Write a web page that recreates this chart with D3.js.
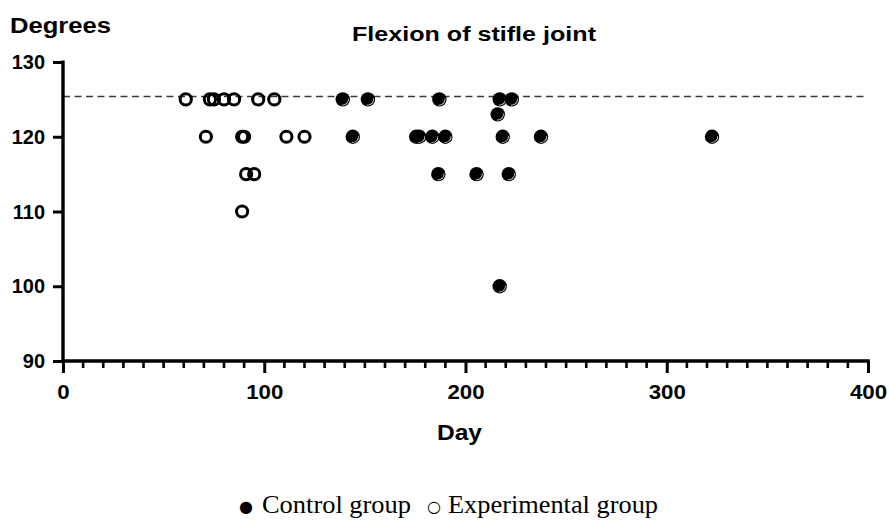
<!DOCTYPE html>
<html>
<head>
<meta charset="utf-8">
<script src="https://cdn.jsdelivr.net/npm/d3@7"></script>
<style>
  html, body { margin: 0; padding: 0; background: #fff; }
  svg { display: block; }
</style>
</head>
<body>
<svg id="chart" width="889" height="521"></svg>
<script>
// ---- data ----
const controlDays    = [139, 151.5, 187, 217, 223, 216, 144, 175.5, 177, 183.5, 190, 218.5, 237.5, 322.5, 186.5, 205.5, 221.5, 217];
const controlDegrees = [125, 125,   125, 125, 125, 123, 120, 120,   120, 120,   120, 120,   120,   120,   115,   115,   115,   100];
const expDays        = [61, 73, 75, 80, 85, 97, 105, 71, 90, 89, 111, 120, 91, 95, 89];
const expDegrees     = [125, 125, 125, 125, 125, 125, 125, 120, 120, 120, 120, 120, 115, 115, 110];
const referenceLine  = 125.4;
const xTicks = [0, 100, 200, 300, 400];
const yTicks = [90, 100, 110, 120, 130];
const legendLabels = ["Control group", "Experimental group"];

// ---- layout ----
const svg = d3.select("#chart");
const x = d3.scaleLinear().domain([0, 400]).range([63, 868]);
const y = d3.scaleLinear().domain([90, 130]).range([361, 62]);
const font = "'Liberation Sans', Arial, Helvetica, sans-serif";
const serif = "'Liberation Serif', 'Times New Roman', serif";

function fit(sel, w) {
  sel.attr("textLength", w).attr("lengthAdjust", "spacingAndGlyphs");
}

// reference dashed line
svg.append("line")
  .attr("x1", x(0)).attr("x2", x(400))
  .attr("y1", y(referenceLine)).attr("y2", y(referenceLine))
  .attr("stroke", "#3a3a3a").attr("stroke-width", 1.5)
  .attr("stroke-dasharray", "7,4.5");

// x axis
const xAxis = d3.axisBottom(x).tickValues(xTicks).tickSize(12).tickPadding(11).tickFormat(d3.format("d"));
const gx = svg.append("g").attr("transform", `translate(0,${y(90)})`).call(xAxis);
gx.select(".domain").attr("stroke", "#000").attr("stroke-width", 3.4).attr("d", `M${x(0)-1.7},0H${x(400)+1.7}`);
gx.selectAll(".tick line").attr("stroke", "#000").attr("stroke-width", 3);
gx.selectAll(".tick text")
  .attr("font-family", font).attr("font-weight", "bold").attr("font-size", 21).attr("fill", "#000")
  .each(function() { const t = d3.select(this); fit(t, this.getComputedTextLength() * 1.06); });

// minor x ticks
const minor = d3.range(10, 400, 10).filter(v => v % 100 !== 0);
svg.append("g").selectAll("line").data(minor).join("line")
  .attr("x1", d => x(d)).attr("x2", d => x(d))
  .attr("y1", y(90)).attr("y2", y(90) + 7)
  .attr("stroke", "#000").attr("stroke-width", 2.6);

// y axis
const yAxis = d3.axisLeft(y).tickValues(yTicks).tickSize(10).tickPadding(8).tickFormat(d3.format("d"));
const gy = svg.append("g").attr("transform", `translate(${x(0)},0)`).call(yAxis);
gy.select(".domain").attr("stroke", "#000").attr("stroke-width", 3.4).attr("d", `M0,${y(130)-1.5}V${y(90)+1.7}`);
gy.selectAll(".tick line").attr("stroke", "#000").attr("stroke-width", 3);
gy.selectAll(".tick text")
  .attr("font-family", font).attr("font-weight", "bold").attr("font-size", 21).attr("fill", "#000")
  .each(function() { const t = d3.select(this); fit(t, this.getComputedTextLength() * 0.95); });

// experimental group: open circles
svg.append("g").selectAll("circle").data(expDays.map((d, i) => [d, expDegrees[i]])).join("circle")
  .attr("cx", d => x(d[0])).attr("cy", d => y(d[1])).attr("r", 5.6)
  .attr("fill", "none").attr("stroke", "#000").attr("stroke-width", 3);

// control group: filled circles with slight highlight
const cg = svg.append("g").selectAll("g").data(controlDays.map((d, i) => [d, controlDegrees[i]])).join("g")
  .attr("transform", d => `translate(${x(d[0])},${y(d[1])})`);
cg.append("circle").attr("r", 7.2).attr("fill", "#000");
cg.append("path")
  .attr("d", d3.arc()({innerRadius: 5.3, outerRadius: 6.1, startAngle: Math.PI * 0.45, endAngle: Math.PI * 1.05}))
  .attr("fill", "#ddd");

// titles
const t1 = svg.append("text").attr("x", 352).attr("y", 41)
  .attr("font-family", font).attr("font-weight", "bold").attr("font-size", 19.5).attr("fill", "#000")
  .text("Flexion of stifle joint");
fit(t1, 244);

const t2 = svg.append("text").attr("x", 10).attr("y", 33)
  .attr("font-family", font).attr("font-weight", "bold").attr("font-size", 22.5).attr("fill", "#000")
  .text("Degrees");
fit(t2, 101);

const t3 = svg.append("text").attr("x", 437).attr("y", 440)
  .attr("font-family", font).attr("font-weight", "bold").attr("font-size", 22.5).attr("fill", "#000")
  .text("Day");
fit(t3, 45);

// legend
const lg = svg.append("g").attr("font-family", serif).attr("font-size", 24.5).attr("fill", "#000");
lg.append("text").attr("x", 246).attr("y", 512).attr("text-anchor", "middle")
  .attr("font-size", 16).attr("font-family", "'DejaVu Sans', sans-serif").text("\u25CF");
fit(lg.append("text").attr("x", 262).attr("y", 513).text(legendLabels[0]), 149);
lg.append("text").attr("x", 434).attr("y", 512).attr("text-anchor", "middle")
  .attr("font-size", 16).attr("font-family", "'DejaVu Sans', sans-serif").text("\u25CB");
fit(lg.append("text").attr("x", 448).attr("y", 513).text(legendLabels[1]), 210);
</script>
</body>
</html>
